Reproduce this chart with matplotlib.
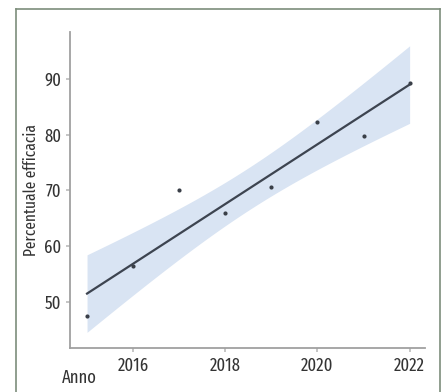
import numpy as np
import matplotlib as mpl
import matplotlib.pyplot as plt
from matplotlib.lines import Line2D

mpl.rcParams['font.family'] = ['Fira Sans Extra Condensed', 'Fira Sans Condensed', 'DejaVu Sans']

anni = [2015, 2016, 2017, 2018, 2019, 2020, 2021, 2022]
efficacia = [47.5, 56.5, 70.0, 66.0, 70.6, 82.3, 79.7, 89.3]
xticks = [2016, 2018, 2020, 2022]
yticks = [50, 60, 70, 80, 90]

x = np.array(anni, dtype=float)
y = np.array(efficacia)
# linear fit + 95% confidence band
slope, inter = np.polyfit(x, y, 1)
n = len(x)
res = y - (slope * x + inter)
s = np.sqrt((res ** 2).sum() / (n - 2))
t975 = 2.447  # t, 6 dof
xf = np.linspace(x.min(), x.max(), 100)
yf = slope * xf + inter
se = s * np.sqrt(1 / n + (xf - x.mean()) ** 2 / ((x - x.mean()) ** 2).sum())

fig = plt.figure(figsize=(4.43, 3.92), dpi=100)
ax = fig.add_axes([0.158, 0.112, 0.801, 0.806])

ax.fill_between(xf, yf - t975 * se, yf + t975 * se, color='#d9e4f3', lw=0, zorder=1)
ax.plot(xf, yf, color='#3d4450', lw=1.6, zorder=2)
ax.scatter(x, y, s=9, color='#3a3f48', linewidths=0, zorder=3)

ax.set_xlim(2014.63, 2022.33)
ax.set_ylim(41.7, 98.4)
ax.set_xticks(xticks)
ax.set_yticks(yticks)
ax.tick_params(color='#bbbbbb', length=3, width=1.2, pad=3)
ax.tick_params(labelcolor='#333333', labelsize=13)
for sp in ['top', 'right']:
    ax.spines[sp].set_visible(False)
for sp in ['left', 'bottom']:
    ax.spines[sp].set_color('#a0a0a0')
    ax.spines[sp].set_linewidth(1.3)

ax.set_ylabel('Percentuale efficacia', fontsize=12, color='#333333', labelpad=4)
fig.text(0.18, 0.035, 'Anno', fontsize=13, color='#333333', ha='center', va='center')

# outer frame
fc = '#7d8e7b'
fig.add_artist(Line2D([0.037, 0.037], [0.0, 0.977], color=fc, lw=1.2))
fig.add_artist(Line2D([0.037, 0.993], [0.977, 0.977], color=fc, lw=1.2))
fig.add_artist(Line2D([0.993, 0.993], [0.0, 0.977], color=fc, lw=1.2))

fig.savefig('out.png', dpi=100)
